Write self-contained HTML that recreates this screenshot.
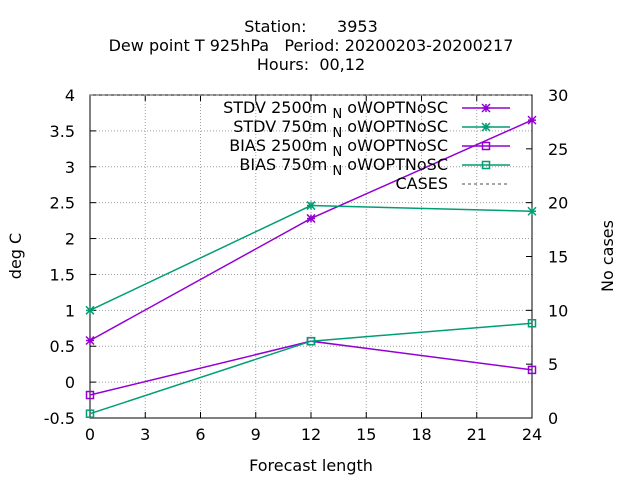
<!DOCTYPE html>
<html><head><meta charset="utf-8"><style>
body{margin:0;background:#fff}
svg{font-family:"DejaVu Sans","Liberation Sans",sans-serif;font-size:16px}
</style></head><body>
<svg id="chart" width="640" height="480" xmlns="http://www.w3.org/2000/svg">
<g text-anchor="middle" fill="#000">
<text x="311" y="32" xml:space="preserve">Station:      3953</text>
<text x="311" y="51" xml:space="preserve">Dew point T 925hPa   Period: 20200203-20200217</text>
<text x="311" y="70" xml:space="preserve">Hours:  00,12</text>
</g>
<g id="grid"></g>
<g id="axes"></g>
<g id="series"></g>
<g id="legend"></g>
<text transform="translate(21,256) rotate(-90)" text-anchor="middle">deg C</text>
<text transform="translate(613,256) rotate(-90)" text-anchor="middle">No cases</text>
<text x="311" y="471" text-anchor="middle">Forecast length</text>
</svg>
<script>
const forecastHours=[0,12,24];
const stdv2500=[0.58,2.28,3.65];
const stdv750=[1.0,2.46,2.38];
const bias2500=[-0.18,0.57,0.17];
const bias750=[-0.44,0.57,0.82];
const cases=[30,30,30];
const xTicks=[0,3,6,9,12,15,18,21,24];
const yTicks=[-0.5,0,0.5,1,1.5,2,2.5,3,3.5,4];
const y2Ticks=[0,5,10,15,20,25,30];
const L=90,R=532,T=95,B=418;
const xs=v=>L+(v-0)/24*(R-L);
const ys=v=>B-(v+0.5)/4.5*(B-T);
const y2s=v=>B-v/30*(B-T);
const NS="http://www.w3.org/2000/svg";
function mk(p,t,a){const e=document.createElementNS(NS,t);for(const k in a)e.setAttribute(k,a[k]);p.appendChild(e);return e;}
const grid=document.getElementById('grid'),axes=document.getElementById('axes');
xTicks.forEach(t=>{const x=xs(t);
 if(t>0&&t<24){const g=mk(grid,'line',{x1:x,x2:x,y1:T,y2:B,stroke:'#a0a0a0','stroke-dasharray':'1,2'});}
 mk(axes,'line',{x1:x,x2:x,y1:B,y2:B-6,stroke:'#000'});mk(axes,'line',{x1:x,x2:x,y1:T,y2:T+6,stroke:'#000'});
 const tx=mk(axes,'text',{x:x,y:B+22,'text-anchor':'middle'});tx.textContent=t;
 });
yTicks.forEach(t=>{const y=ys(t);
 if(t>-0.5&&t<4){const g=mk(grid,'line',{x1:L,x2:R,y1:y,y2:y,stroke:'#a0a0a0','stroke-dasharray':'1,2'});}
 mk(axes,'line',{x1:L,x2:L+6,y1:y,y2:y,stroke:'#000'});
 const tx=mk(axes,'text',{x:L-15,y:y+6,'text-anchor':'end'});tx.textContent=t;
 });
y2Ticks.forEach(t=>{const y=y2s(t);
 mk(axes,'line',{x1:R,x2:R-6,y1:y,y2:y,stroke:'#000'});
 const tx=mk(axes,'text',{x:R+16,y:y+6,'text-anchor':'start'});tx.textContent=t;
 });
mk(axes,'rect',{x:L,y:T,width:R-L,height:B-T,fill:'none',stroke:'#000'});
const ser=document.getElementById('series');
function marker(g,x,y,type,c){
 if(type==='x'){mk(g,'path',{d:`M${x-4},${y-4}L${x+4},${y+4}M${x-4},${y+4}L${x+4},${y-4}M${x},${y-4}L${x},${y+4}M${x-4},${y}L${x+4},${y}`,stroke:c,'stroke-width':1.5,fill:'none'});}
 else if(type==='s'){mk(g,'rect',{x:x-3.5,y:y-3.5,width:7,height:7,stroke:c,'stroke-width':1.5,fill:'none'});}
}
function draw(vals,sc,c,type,name,dash){
 const g=mk(ser,'g',{});
 const pts=forecastHours.map((h,i)=>xs(h)+','+sc(vals[i])).join(' ');
 const a={points:pts,fill:'none',stroke:c,'stroke-width':1.5};if(dash)a['stroke-dasharray']=dash;
 mk(g,'polyline',a);
 if(type)forecastHours.forEach((h,i)=>marker(g,xs(h),sc(vals[i]),type,c));
}
const P='#9400d3',G='#009e73';
draw(cases,y2s,'#888',null,'cases-line','3,3');
draw(stdv2500,ys,P,'x','stdv-2500-line');
draw(stdv750,ys,G,'x','stdv-750-line');
draw(bias2500,ys,P,'s','bias-2500-line');
draw(bias750,ys,G,'s','bias-750-line');
const leg=document.getElementById('legend');
const items=[['STDV 2500m','x',P,null],['STDV 750m','x',G,null],['BIAS 2500m','s',P,null],['BIAS 750m','s',G,null],['CASES',null,'#888','3,3']];
items.forEach((it,i)=>{const y=108+i*19;
 const g=mk(leg,'g',{});
 const t=mk(g,'text',{x:448,y:y+5,'text-anchor':'end'});
 t.setAttribute('xml:space','preserve');
 if(it[1]){t.innerHTML=it[0]+' <tspan dy="5" font-size="13">N</tspan><tspan dy="-5"> oWOPTNoSC</tspan>';}else t.textContent=it[0];
 const a={x1:462,x2:510,y1:y,y2:y,stroke:it[2],'stroke-width':1.5};if(it[3])a['stroke-dasharray']=it[3];
 mk(g,'line',a);if(it[1])marker(g,486,y,it[1],it[2]);
});
</script>
</body></html>
